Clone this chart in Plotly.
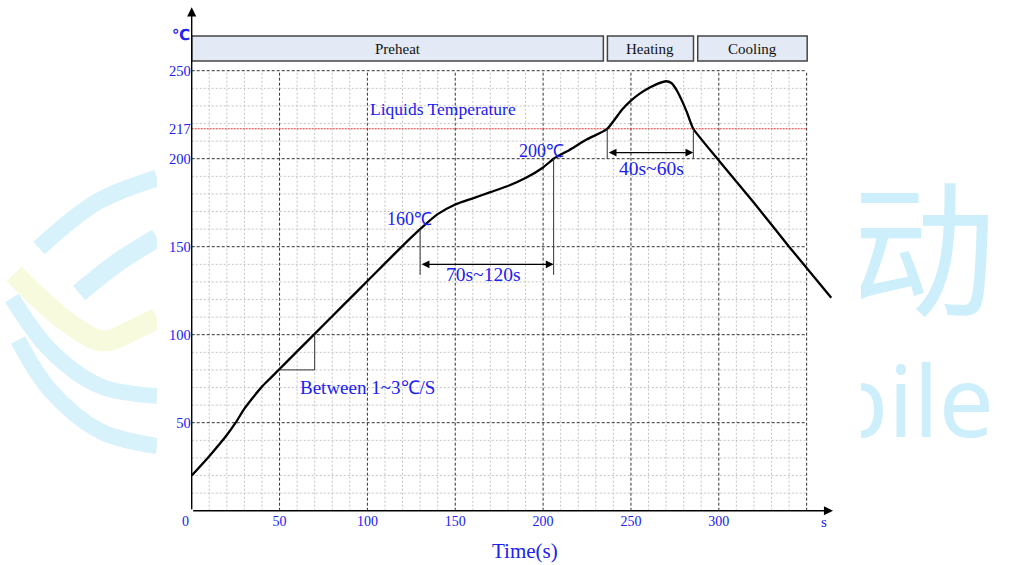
import plotly.graph_objects as go

# ---------------- data ----------------
time_s = [0, 10, 20, 25, 30, 35, 40, 45, 50, 60, 70, 80, 90, 100, 110, 120, 130,
          140, 150, 160, 170, 180, 190, 200, 206, 215, 225, 236.5, 245, 250, 255,
          260, 265, 270, 273, 276, 279, 282, 285.5, 300, 320, 340, 364]
temp_c = [20, 31, 43, 50, 58, 64.5, 70.5, 75.5, 80.5, 90.5, 100.5, 110.5, 120.5, 130.5, 140.5, 150.5, 160,
          168.5, 174, 177.5, 181, 184.5, 189, 195, 200, 205, 211, 217, 228, 233, 237,
          240, 242.5, 244, 243, 239, 233, 226, 217, 199, 175, 150, 121]

x_ticks = [50, 100, 150, 200, 250, 300]
y_ticks = [50, 100, 150, 200, 217, 250]
liquidus = 217
grid_x_max, grid_y_max = 350, 250

phases = ["Preheat", "Heating", "Cooling"]
phase_start = [0, 236.6, 288]
phase_end = [234.3, 285.6, 350.3]

soak_start, soak_end, soak_temps = 130, 206, [160, 200]
reflow_start, reflow_end = 236.5, 285.5
slope_x = [50, 70]
slope_y = [80, 100]

# watermark (decorative background logo, pixel space)
wm_blue_bands = [
    ([39, 97, 157], [248, 202, 178], 17),
    ([79, 117, 157], [293, 263, 238], 19),
    ([12, 50, 100, 157], [298, 350, 386, 396], 16),
    ([18, 50, 100, 157], [340, 390, 431, 446], 16),
]
wm_yellow_band = ([14, 67, 103, 133, 157], [274, 322, 341, 330, 318], 21)

# ---------------- styling ----------------
BLUE = "#2020f0"
SERIF = "Liberation Serif, Times New Roman, serif"
W, H = 1009, 565
X0_PX, Y0_PX = 191.7, 510.7
PX_X, PX_Y = 1.757, 1.76
X_MAX = 366
Y_MAX = Y0_PX / PX_Y


def px(xp, yp):
    return xp / W, (H - yp) / H


fig = go.Figure()

# grid (shapes)
shapes = []
for xv in range(0, grid_x_max + 1, 10):
    major = xv % 50 == 0 and xv > 0
    shapes.append(dict(type="line", xref="x", yref="y", x0=xv, x1=xv, y0=0, y1=grid_y_max,
                       line=dict(color="#333333" if major else "#c4c4c4", width=1,
                                 dash="3px,2px" if major else "2px,2px"), layer="below"))
for yv in range(10, grid_y_max + 1, 10):
    major = yv % 50 == 0
    shapes.append(dict(type="line", xref="x", yref="y", x0=0, x1=grid_x_max, y0=yv, y1=yv,
                       line=dict(color="#333333" if major else "#c4c4c4", width=1,
                                 dash="3px,2px" if major else "2px,2px"), layer="below"))
shapes.append(dict(type="line", xref="x", yref="y", x0=0, x1=grid_x_max, y0=liquidus, y1=liquidus,
                   line=dict(color="#e03a3a", width=1, dash="2px,1px"), layer="below"))

# phase header boxes
for name, s, e in zip(phases, phase_start, phase_end):
    shapes.append(dict(type="rect", xref="x", yref="y", x0=s, x1=e, y0=255.5, y1=269.7,
                       fillcolor="#e3eaf5", line=dict(color="#444444", width=1.5)))

# guide lines
for xv, yv in zip([soak_start, soak_end], soak_temps):
    shapes.append(dict(type="line", xref="x", yref="y", x0=xv, x1=xv, y0=134, y1=yv,
                       line=dict(color="#333333", width=1)))
for xv in [reflow_start, reflow_end]:
    shapes.append(dict(type="line", xref="x", yref="y", x0=xv, x1=xv, y0=200, y1=liquidus,
                       line=dict(color="#333333", width=1)))
shapes.append(dict(type="line", xref="x", yref="y", x0=slope_x[0], x1=slope_x[1], y0=slope_y[0], y1=slope_y[0],
                   line=dict(color="#333333", width=1)))
shapes.append(dict(type="line", xref="x", yref="y", x0=slope_x[1], x1=slope_x[1], y0=slope_y[0], y1=slope_y[1],
                   line=dict(color="#333333", width=1)))

# watermark traces (clipped subplots)
for bx, by, bw in wm_blue_bands:
    fig.add_trace(go.Scatter(x=bx, y=by, mode="lines", xaxis="x3", yaxis="y3",
                             line=dict(color="#d8f2fb", width=bw, shape="spline"),
                             showlegend=False, hoverinfo="skip", cliponaxis=True))
fig.add_trace(go.Scatter(x=wm_yellow_band[0], y=wm_yellow_band[1], mode="lines", xaxis="x3", yaxis="y3",
                         line=dict(color="#f7fadd", width=wm_yellow_band[2], shape="spline"),
                         showlegend=False, hoverinfo="skip", cliponaxis=True))
fig.add_trace(go.Scatter(x=[922], y=[268], mode="text", text=["动"], xaxis="x2", yaxis="y2",
                         textfont=dict(family="Noto Sans CJK SC", size=148, color="#cdeffb"),
                         showlegend=False, hoverinfo="skip", cliponaxis=True))
fig.add_trace(go.Scatter(x=[994], y=[412], mode="text", text=["Mobile"], xaxis="x2", yaxis="y2",
                         textposition="middle left",
                         textfont=dict(family="Noto Sans", size=98, color="#cdeffb"),
                         showlegend=False, hoverinfo="skip", cliponaxis=True))

# profile curve
fig.add_trace(go.Scatter(x=time_s, y=temp_c, mode="lines",
                         line=dict(color="black", width=2.3, shape="spline", smoothing=0.5),
                         hoverinfo="skip", showlegend=False, cliponaxis=False))

ann = []
ax_common = dict(showarrow=True, arrowcolor="black", arrowwidth=1.4, arrowhead=2, arrowsize=1.3)
# axes with arrows
ann.append(dict(x=X_MAX - 1, y=0, ax=0, ay=0, xref="x", yref="y", axref="x", ayref="y", text="", **ax_common))
ann.append(dict(x=0, y=286, ax=0, ay=0, xref="x", yref="y", axref="x", ayref="y", text="", **ax_common))
# double arrows
dbl = dict(showarrow=True, arrowcolor="black", arrowwidth=1.2, arrowhead=2, arrowsize=1.3,
           startarrowhead=2, startarrowsize=1.3, arrowside="end+start", text="")
ann.append(dict(x=soak_end, y=140, ax=soak_start, ay=140, xref="x", yref="y", axref="x", ayref="y", **dbl))
ann.append(dict(x=reflow_end, y=203.5, ax=reflow_start, ay=203.5, xref="x", yref="y", axref="x", ayref="y", **dbl))


def txt(x, y, t, size=17, color=BLUE, **kw):
    ann.append(dict(x=x, y=y, xref="x", yref="y", text=t, showarrow=False,
                    font=dict(family=SERIF, size=size, color=color), **kw))


def ptxt(xp, yp, t, size=14, color=BLUE, family=SERIF):
    xx, yy = px(xp, yp)
    ann.append(dict(x=xx, y=yy, xref="paper", yref="paper", text=t, showarrow=False,
                    xanchor="center", yanchor="middle",
                    font=dict(family=family, size=size, color=color)))


txt(166, 134, "70s~120s", size=19.5)
txt(261.5, 194.5, "40s~60s", size=19.5)
txt(124, 165.5, "160℃", size=18)
txt(199, 204.5, "200℃", size=18)
txt(143, 228, "Liquids Temperature", size=17.5)
txt(100, 70, "Between 1~3℃/S", size=19)
for name, s, e in zip(phases, phase_start, phase_end):
    txt((s + e) / 2, 262.6, name, size=15, color="#111111")
ptxt(824, 521.7, "s", size=15)
ptxt(185, 521.7, "0", size=14)
ptxt(525, 551, "Time(s)", size=21)
ptxt(181, 35, "<b>℃</b>", size=15, family="DejaVu Sans")

fig.update_layout(
    width=W, height=H, margin=dict(l=0, r=0, t=0, b=0),
    paper_bgcolor="white", plot_bgcolor="rgba(0,0,0,0)",
    shapes=shapes, annotations=ann,
    xaxis=dict(domain=[X0_PX / W, (X0_PX + X_MAX * PX_X) / W], range=[0, X_MAX],
               showgrid=False, zeroline=False, showline=False,
               tickvals=x_ticks, ticks="", tickfont=dict(family=SERIF, size=14, color=BLUE)),
    yaxis=dict(domain=[(H - Y0_PX) / H, 1], range=[0, Y_MAX],
               showgrid=False, zeroline=False, showline=False,
               tickvals=y_ticks, ticks="", tickfont=dict(family=SERIF, size=14.5, color=BLUE)),
    xaxis2=dict(domain=[861 / W, 1], range=[861, W], visible=False, fixedrange=True),
    yaxis2=dict(domain=[0, 1], range=[H, 0], visible=False, anchor="x2", fixedrange=True),
    xaxis3=dict(domain=[0, 157 / W], range=[0, 157], visible=False, fixedrange=True),
    yaxis3=dict(domain=[0, 1], range=[H, 0], visible=False, anchor="x3", fixedrange=True),
)

fig.write_html("out.html", config={"displayModeBar": False},
               post_script="document.body.style.margin='0';document.body.style.overflow='hidden';")
